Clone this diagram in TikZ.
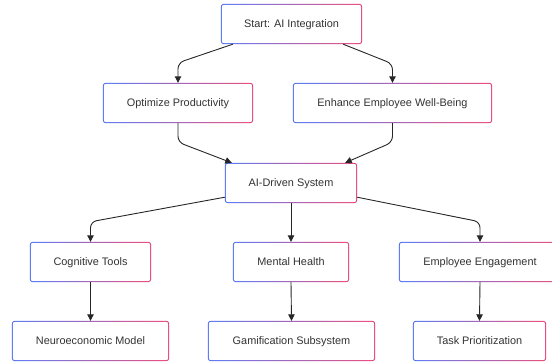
\documentclass[tikz,border=0pt]{standalone}
\usepackage{fontspec}
\setmainfont{Liberation Sans}
\usepackage{tikz}
\usetikzlibrary{arrows.meta,backgrounds}
\definecolor{edgeBlue}{RGB}{72,108,246}
\definecolor{edgePink}{RGB}{234,56,108}
\definecolor{textGray}{RGB}{51,51,51}
\begin{document}
\begin{tikzpicture}[x=1pt, y=-1pt,
  boxStyle/.style={minimum height=40pt, inner sep=0pt, text height=7.8pt, text depth=0pt, text=textGray, font=\fontsize{10.9}{13}\selectfont},
  borderShade/.style={left color=edgeBlue, right color=edgePink, rounded corners=3pt},
  arrowStyle/.style={draw=black!85, line width=0.9pt, rounded corners=6pt, -{Triangle[length=6.5pt, width=6.5pt]}}
]
\useasboundingbox (0,0) rectangle (552,362);

\node [boxStyle, minimum width=141pt] (start) at (291.5, 24)  {Start: AI Integration};

\node [boxStyle, minimum width=150pt] (opt)   at (178, 103)   {Optimize Productivity};
\node [boxStyle, minimum width=199pt] (enh)   at (392.5, 103) {Enhance Employee Well-Being};

\node [boxStyle, minimum width=132pt] (ai)    at (291, 183)   {AI-Driven System};

\node [boxStyle, minimum width=121pt] (cog)   at (90.5, 262)  {Cognitive Tools};
\node [boxStyle, minimum width=116pt] (mh)    at (291, 262)   {Mental Health};
\node [boxStyle, minimum width=162pt] (eng)   at (480, 262)   {Employee Engagement};

\node [boxStyle, minimum width=157pt] (neuro) at (90.5, 341)  {Neuroeconomic Model};
\node [boxStyle, minimum width=167pt] (gam)   at (291.5, 341) {Gamification Subsystem};
\node [boxStyle, minimum width=133pt] (task)  at (479.5, 341) {Task Prioritization};

\begin{scope}[on background layer]
\foreach \n in {start,opt,enh,ai,cog,mh,eng,neuro,gam,task} {
  \shade [borderShade] (\n.south west) rectangle (\n.north east);
  \fill [white, rounded corners=2.2pt] ([shift={(1pt,1pt)}]\n.south west) rectangle ([shift={(-1pt,-1pt)}]\n.north east);
}
\end{scope}

\draw [arrowStyle] ([xshift=12pt]start.south west) -- ([yshift=20pt]opt.north) -- (opt.north);
\draw [arrowStyle] ([xshift=-19pt]start.south east) -- ([yshift=19pt]enh.north) -- (enh.north);

\draw [arrowStyle] (opt.south) -- ([yshift=-19pt]opt.south) -- ([xshift=7pt]ai.north west);
\draw [arrowStyle] (enh.south) -- ([yshift=-19pt]enh.south) -- ([xshift=-12pt]ai.north east);

\draw [arrowStyle] ([yshift=6pt]ai.south west) -- ([yshift=20pt]cog.north) -- (cog.north);
\draw [arrowStyle] (ai.south) -- (mh.north);
\draw [arrowStyle] ([yshift=6pt]ai.south east) -- ([yshift=20pt]eng.north) -- (eng.north);

\draw [arrowStyle] (cog.south) -- (neuro.north);
\draw [arrowStyle] (mh.south) -- (gam.north);
\draw [arrowStyle] (eng.south) -- (task.north);
\end{tikzpicture}
\end{document}
